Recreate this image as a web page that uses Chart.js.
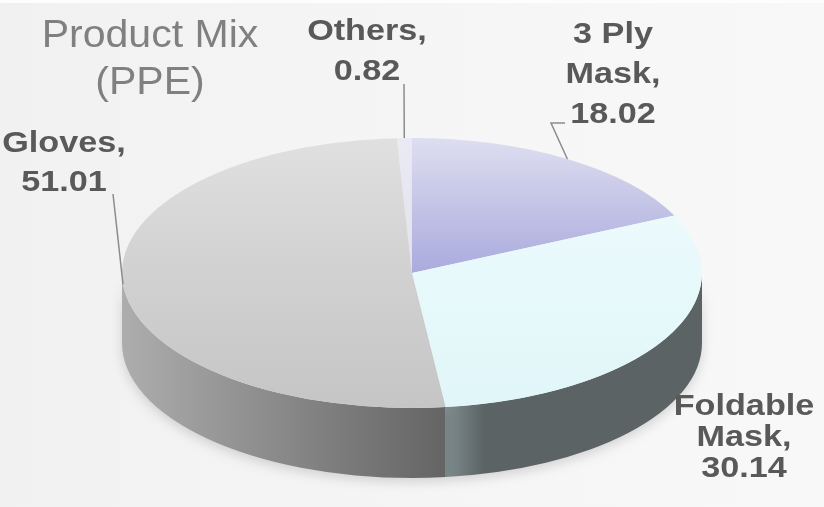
<!DOCTYPE html>
<html>
<head>
<meta charset="utf-8">
<script src="https://cdn.jsdelivr.net/npm/chart.js@4.4.1/dist/chart.umd.min.js"></script>
<style>
  html, body { margin: 0; padding: 0; background: #f4f4f4; }
  canvas { display: block; }
</style>
</head>
<body>
<canvas id="productMix" width="824" height="507"></canvas>
<script>
// product mix, share of sales in %
const categories = [['Others'], ['3 Ply', 'Mask'], ['Foldable', 'Mask'], ['Gloves']]
const shares = [0.82, 18.02, 30.14, 51.01]
const titleLines = ['Product Mix', '(PPE)']

// top face shades (back rim, centre, front rim) and side wall shades (left -> right)
const topShades = [
  ['#eaeaf4', '#e2e2ee', '#e2e2ee'],
  ['#dedef0', '#aaaade', '#aaaade'],
  ['#f1fbfd', '#e8f9fb', '#e0f6f9'],
  ['#e0e0e0', '#d1d1d1', '#c5c5c5']
]
const sideShades = [
  ['#c9c9dc', '#c9c9dc'],
  ['#8f8fb8', '#8f8fb8'],
  ['#808e90', '#5b6365'],
  ['#adadad', '#646464']
]

// where the tilted disc sits on the page
const disc = {cx: 412, cy: 273, rx: 290, ry: 135, depth: 70}

// label boxes: centre x, first baseline, line height, leader polyline start
const labelSpots = [
  {x: 367, y: 40, lh: 40, leader: [[404, 84]]},
  {x: 613, y: 43, lh: 40, leader: [[565, 123], [551, 123]]},
  {x: 744, y: 415, lh: 31, leader: null},
  {x: 64, y: 152, lh: 39, leader: [[113, 194]]}
]

const labelText = (i) => {
  const lines = categories[i].slice()
  lines[lines.length - 1] += ','
  return lines.concat(shares[i].toFixed(2))
}

function stretchedText(ctx, text, x, y, sx) {
  ctx.save()
  ctx.translate(x, y)
  ctx.scale(sx, 1)
  ctx.fillText(text, 0, 0)
  ctx.restore()
}

const ellipsePoint = (a, dy) => [
  disc.cx + disc.rx * Math.cos(a),
  disc.cy + (dy || 0) + disc.ry * Math.sin(a)
]

const backdrop = {
  id: 'backdrop',
  beforeDraw(chart) {
    const ctx = chart.ctx
    const g = ctx.createLinearGradient(0, 0, chart.width, 0)
    g.addColorStop(0, '#f1f1f1')
    g.addColorStop(0.6, '#f6f6f6')
    g.addColorStop(1, '#f8f8f8')
    ctx.save()
    ctx.fillStyle = g
    ctx.fillRect(0, 0, chart.width, chart.height)
    ctx.fillStyle = '#fdfdfd'
    ctx.fillRect(0, 0, chart.width, 3)
    ctx.restore()
  }
}

// squash the pie into an ellipse and extrude the front half downwards
const tilt = {
  id: 'tilt',
  beforeDatasetsDraw(chart) {
    const ctx = chart.ctx
    const arcs = chart.getDatasetMeta(0).data

    ctx.save()
    arcs.forEach((arc, i) => {
      const a0 = Math.max(arc.startAngle, 0)
      const a1 = Math.min(arc.endAngle, Math.PI)
      if (a1 <= a0) return
      const [xa] = ellipsePoint(a0)
      const [xb] = ellipsePoint(a1)
      const left = Math.min(xa, xb), right = Math.max(xa, xb)
      const g = ctx.createLinearGradient(left, 0, right, 0)
      g.addColorStop(0, sideShades[i][0])
      g.addColorStop(i === 2 ? 0.15 : 1, sideShades[i][1])
      g.addColorStop(1, sideShades[i][1])

      ctx.beginPath()
      ctx.ellipse(disc.cx, disc.cy, disc.rx, disc.ry, 0, a0, a1)
      const [bx, by] = ellipsePoint(a1, disc.depth)
      ctx.lineTo(bx, by)
      ctx.ellipse(disc.cx, disc.cy + disc.depth, disc.rx, disc.ry, 0, a1, a0, true)
      ctx.closePath()
      ctx.shadowColor = 'rgba(0,0,0,0.15)'
      ctx.shadowBlur = 12
      ctx.shadowOffsetY = 4
      ctx.fillStyle = g
      ctx.fill()
    })
    ctx.restore()

    const c = arcs[0]
    ctx.save()
    ctx.translate(disc.cx, disc.cy)
    ctx.scale(disc.rx / c.outerRadius, disc.ry / c.outerRadius)
    ctx.translate(-c.x, -c.y)
  },
  afterDatasetsDraw(chart) {
    chart.ctx.restore()
  }
}

const labels = {
  id: 'labels',
  afterDraw(chart) {
    const ctx = chart.ctx
    const arcs = chart.getDatasetMeta(0).data

    ctx.save()
    ctx.strokeStyle = '#8c8c8c'
    ctx.lineWidth = 1.5
    arcs.forEach((arc, i) => {
      const spot = labelSpots[i]
      if (!spot.leader) return
      const mid = (arc.startAngle + arc.endAngle) / 2
      const pts = spot.leader.concat([ellipsePoint(mid)])
      ctx.beginPath()
      pts.forEach(([x, y], k) => k ? ctx.lineTo(x, y) : ctx.moveTo(x, y))
      ctx.stroke()
    })

    ctx.fillStyle = '#595959'
    ctx.textAlign = 'center'
    ctx.textBaseline = 'alphabetic'
    ctx.font = 'bold 30px "Liberation Sans", Arial, sans-serif'
    labelSpots.forEach((spot, i) => {
      labelText(i).forEach((t, k) => stretchedText(ctx, t, spot.x, spot.y + k * spot.lh, 1.14))
    })

    ctx.fillStyle = '#808080'
    ctx.font = '38px "Liberation Sans", Arial, sans-serif'
    titleLines.forEach((t, k) => stretchedText(ctx, t, 150, 47 + k * 47, 1.08))
    ctx.restore()
  }
}

function faceFill(context) {
  const i = context.dataIndex
  const chart = context.chart
  const area = chart.chartArea
  if (!area) return topShades[i][1]
  const g = chart.ctx.createLinearGradient(0, area.top, 0, area.bottom)
  topShades[i].forEach((c, k) => g.addColorStop(k / 2, c))
  return g
}

new Chart(document.getElementById('productMix'), {
  type: 'pie',
  data: {
    labels: categories.map(c => c.join(' ')),
    datasets: [{
      data: shares,
      backgroundColor: faceFill,
      borderWidth: 0,
      clip: false
    }]
  },
  options: {
    responsive: false,
    animation: false,
    rotation: -3,
    layout: {padding: 0},
    plugins: {
      legend: {display: false},
      tooltip: {enabled: false}
    }
  },
  plugins: [backdrop, tilt, labels]
})
</script>
</body>
</html>
